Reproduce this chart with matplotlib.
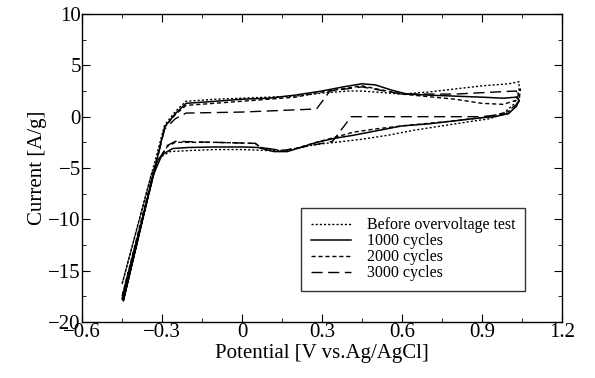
import matplotlib
matplotlib.use("Agg")
import matplotlib.pyplot as plt
from matplotlib.ticker import MultipleLocator

plt.rcParams['font.family'] = ['Liberation Serif', 'DejaVu Serif']

# before overvoltage test (dotted)
v_before = [-0.45, -0.29, -0.25, -0.21, -0.1, 0.0, 0.1, 0.2, 0.3, 0.4, 0.45, 0.5, 0.6,
            0.7, 0.8, 0.9, 1.0, 1.04, 1.04, 1.02, 0.98, 0.93, 0.85, 0.75, 0.65, 0.55, 0.45, 0.35,
            0.28, 0.22, 0.17, 0.1, 0.0, -0.1, -0.2, -0.27, -0.31, -0.34, -0.45]
i_before = [-16.3, -0.8, 0.5, 1.5, 1.7, 1.8, 1.9, 2.0, 2.3, 2.5, 2.5, 2.4, 2.2,
            2.4, 2.7, 3.0, 3.2, 3.4, 2.5, 1.2, 0.3, -0.2, -0.5, -0.9, -1.3, -1.8, -2.2, -2.5,
            -2.7, -3.0, -3.3, -3.3, -3.2, -3.2, -3.3, -3.4, -4.0, -5.6, -16.3]

# 1000 cycles (solid)
v_1000 = [-0.445, -0.29, -0.25, -0.21, -0.1, 0.0, 0.1, 0.2, 0.3, 0.38, 0.45, 0.5,
          0.56, 0.62, 0.7, 0.8, 0.9, 0.98, 1.03, 1.04, 1.03, 1.0, 0.95, 0.9, 0.8, 0.7, 0.6, 0.5,
          0.42, 0.35, 0.28, 0.22, 0.17, 0.12, 0.06, 0.0, -0.1, -0.2, -0.26, -0.3, -0.335, -0.445]
i_1000 = [-17.9, -1.0, 0.3, 1.3, 1.5, 1.7, 1.8, 2.1, 2.5, 2.9, 3.2, 3.1,
          2.6, 2.2, 2.1, 2.0, 1.9, 1.8, 1.9, 1.6, 1.0, 0.3, 0.0, -0.1, -0.4, -0.7, -0.9, -1.4,
          -1.8, -2.1, -2.5, -3.0, -3.4, -3.4, -3.0, -2.95, -2.95, -3.0, -3.1, -3.7, -5.8, -17.9]

# 2000 cycles (short dash)
v_2000 = [-0.45, -0.29, -0.25, -0.21, 0.0, 0.2, 0.3, 0.45, 0.6, 0.8, 0.9, 0.98,
          1.03, 1.045, 1.04, 1.0, 0.93, 0.8, 0.6, 0.5, 0.42, 0.35, 0.28, 0.2, 0.15, 0.07, 0.05,
          -0.1, -0.25, -0.28, -0.32, -0.45]
i_2000 = [-17.5, -1.0, 0.2, 1.1, 1.5, 1.9, 2.4, 3.0, 2.2, 1.7, 1.3, 1.2,
          1.6, 2.7, 1.5, 0.5, 0.0, -0.4, -0.9, -1.2, -1.5, -2.0, -2.5, -3.1, -3.3, -3.0, -2.6,
          -2.5, -2.5, -2.9, -4.5, -17.5]

# 3000 cycles (long dash)
v_3000 = [-0.45, -0.29, -0.25, -0.21, 0.0, 0.28, 0.33, 0.45, 0.6, 0.8, 0.95, 1.03,
          1.04, 1.0, 0.9, 0.7, 0.41, 0.34, 0.2, 0.15, 0.07, 0.05, -0.1, -0.25, -0.28, -0.32,
          -0.45]
i_3000 = [-17.8, -1.2, -0.2, 0.35, 0.45, 0.75, 2.5, 2.9, 2.2, 2.2, 2.4, 2.5,
          1.5, 0.3, 0.0, 0.0, 0.0, -2.4, -3.1, -3.3, -3.0, -2.6, -2.5, -2.4, -2.8, -4.5,
          -17.8]

x_ticks = [-0.6, -0.3, 0, 0.3, 0.6, 0.9, 1.2]
x_labels = ['\u22120.6', '\u22120.3', '0', '0.3', '0.6', '0.9', '1.2']
y_ticks = [-20, -15, -10, -5, 0, 5, 10]
y_labels = ['\u221220', '\u221215', '\u221210', '\u22125', '0', '5', '10']

fig = plt.figure(figsize=(5.95, 3.78), dpi=100)
ax = fig.add_axes([0.138, 0.148, 0.806, 0.815])

ax.plot(v_before, i_before, color='black', lw=1.0, ls=(0, (1.5, 1.5)), label='Before overvoltage test')
ax.plot(v_1000, i_1000, color='black', lw=1.1, ls='-', label='1000 cycles')
ax.plot(v_2000, i_2000, color='black', lw=1.0, ls=(0, (3, 2)), label='2000 cycles')
ax.plot(v_3000, i_3000, color='black', lw=1.0, ls=(0, (8, 4)), label='3000 cycles')

ax.set_xlim(-0.6, 1.2)
ax.set_ylim(-20, 10)
ax.set_xticks(x_ticks)
ax.set_xticklabels(x_labels)
ax.set_yticks(y_ticks)
ax.set_yticklabels(y_labels)
ax.xaxis.set_minor_locator(MultipleLocator(0.15))
ax.yaxis.set_minor_locator(MultipleLocator(2.5))
ax.tick_params(which='both', direction='in', top=True, right=True, labelsize=15, pad=1)
ax.tick_params(which='major', length=6)
ax.tick_params(which='minor', length=3)
for s in ax.spines.values():
    s.set_linewidth(1.0)

ax.set_xlabel('Potential [V vs.Ag/AgCl]', fontsize=15, labelpad=1)
ax.set_ylabel('Current [A/g]', fontsize=15, labelpad=1)

leg = ax.legend(loc='lower right', bbox_to_anchor=(0.94, 0.075), fontsize=11.5, frameon=True,
                fancybox=False, edgecolor='black', handlelength=2.5, borderpad=0.6,
                labelspacing=0.0, handletextpad=1.0)
leg.get_frame().set_linewidth(1.0)

fig.savefig('out.png', dpi=100)
